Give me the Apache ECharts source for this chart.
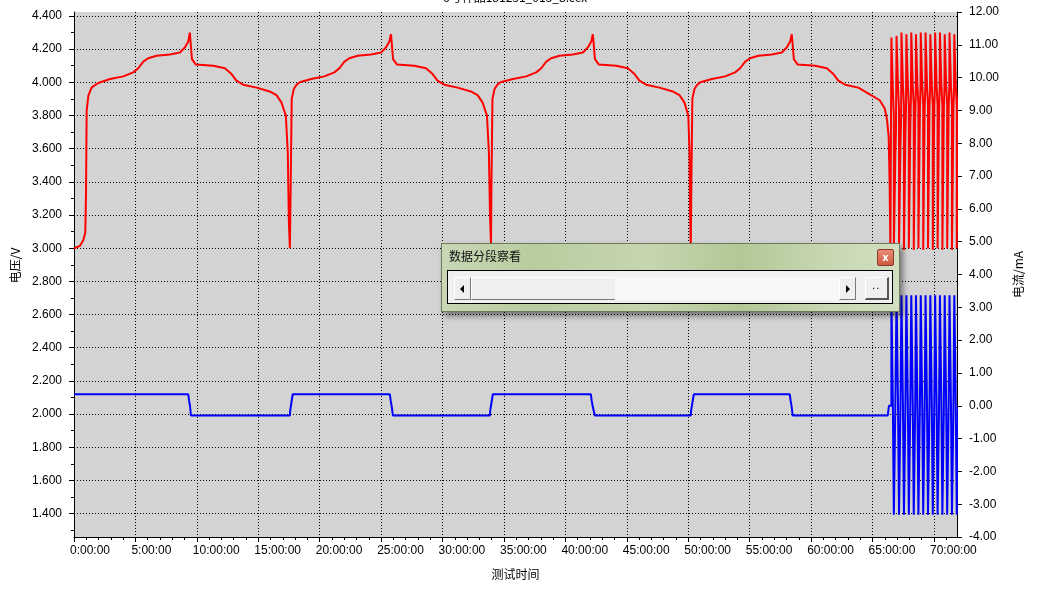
<!DOCTYPE html>
<html><head><meta charset="utf-8">
<script src="https://cdn.jsdelivr.net/npm/echarts@6/dist/echarts.min.js"></script>
<style>
html,body{margin:0;padding:0;background:#fff;}
#wrap{position:relative;width:1040px;height:606px;overflow:hidden;}
#chart{position:absolute;left:0;top:0;width:1040px;height:606px;}
#dlg{position:absolute;left:441px;top:243px;width:459px;height:69px;box-sizing:border-box;border:1px solid #6d7a60;
 background:linear-gradient(90deg,#c9d7b5 0%,#b9cc9f 20%,#c6d6b0 45%,#b3c796 65%,#c8d8b3 85%,#d2dfc0 100%);
 box-shadow:3px 4px 6px rgba(0,0,0,0.45);font-family:"Noto Sans CJK SC",sans-serif;}
#dlg .ttl{position:absolute;left:7px;top:5px;font-size:12px;line-height:14px;color:#111;}
#dlg .cls{position:absolute;left:435px;top:5px;width:15px;height:15px;border:1px solid #8a3c2c;border-radius:2px;
 background:linear-gradient(#e98c76,#cf5a40);color:#fff;font:bold 10px "DejaVu Sans",sans-serif;text-align:center;line-height:15px;}
#dlg .pnl{position:absolute;left:5px;top:26px;width:446px;height:34px;box-sizing:border-box;border:1px solid #000;background:#f0f0f0;}
#dlg .btn{position:absolute;top:6px;height:23px;box-sizing:border-box;background:#efefef;
 border-top:1px solid #fff;border-left:1px solid #fff;border-right:1px solid #7a7a7a;border-bottom:1px solid #7a7a7a;}
#dlg .trk{position:absolute;top:6px;height:23px;left:167px;width:224px;background:#f8f8f8;}
#dlg .tri{position:absolute;top:7px;width:0;height:0;border-top:4px solid transparent;border-bottom:4px solid transparent;}
</style></head><body>
<div id="wrap">
<div id="chart"></div>
<div id="dlg">
 <div class="ttl">数据分段察看</div>
 <div class="cls">x</div>
 <div class="pnl">
  <div class="btn" style="left:6px;width:17px;"><div class="tri" style="left:5px;border-right:4px solid #000;"></div></div>
  <div class="btn" style="left:23px;width:145px;"></div>
  <div class="trk"></div>
  <div class="btn" style="left:391px;width:17px;"><div class="tri" style="left:6px;border-left:4px solid #000;"></div></div>
  <div class="btn" style="left:417px;width:24px;border-right:2px solid #555;border-bottom:2px solid #555;"><div style="position:absolute;left:6px;top:2px;font:10px 'DejaVu Sans';color:#000;letter-spacing:1px">..</div></div>
 </div>
</div>
</div>
<script>
// ---------- data (hours, volts / mA) ----------
const TITLE = '6号样品181231_015_8.cex';
const X_LABEL = '测试时间';
const Y_LEFT_NAME = '电压/V';
const Y_RIGHT_NAME = '电流/mA';
const xTicks = [0,5,10,15,20,25,30,35,40,45,50,55,60,65,70];
const voltTicks = [1.4,1.6,1.8,2.0,2.2,2.4,2.6,2.8,3.0,3.2,3.4,3.6,3.8,4.0,4.2,4.4];
const voltMinorTicks = [1.3,1.5,1.7,1.9,2.1,2.3,2.5,2.7,2.9,3.1,3.3,3.5,3.7,3.9,4.1,4.3];

const voltCycle1 = [[0,3.0],[0.49,3.014],[0.76,3.05],[0.92,3.095],[0.98,3.34],[1.03,3.83],[1.17,3.92],[1.44,3.97],[1.98,3.996],[2.93,4.02],[4.01,4.036],[4.82,4.06],[5.23,4.085],[5.64,4.125],[6.04,4.145],[6.72,4.16],[7.8,4.168],[8.62,4.18],[9.02,4.21],[9.3,4.246],[9.43,4.30],[9.49,4.24],[9.6,4.14],[9.92,4.107],[11.33,4.10],[12.28,4.085],[12.82,4.05],[13.22,4.01],[13.77,3.986],[14.85,3.968],[15.93,3.945],[16.48,3.923],[16.88,3.879],[17.24,3.80],[17.40,3.58],[17.46,3.58],[17.49,3.16],[17.55,3.16],[17.57,3.0]];
const voltCycle2 = [[17.62,3.0],[17.64,3.40],[17.72,3.90],[17.89,3.96],[18.1,3.984],[18.37,4.0],[19.30,4.02],[20.38,4.036],[21.19,4.06],[21.60,4.085],[22.01,4.125],[22.41,4.145],[23.09,4.16],[24.17,4.168],[24.99,4.18],[25.39,4.21],[25.67,4.246],[25.80,4.29],[25.86,4.24],[25.97,4.14],[26.29,4.107],[27.70,4.10],[28.65,4.085],[29.19,4.05],[29.59,4.01],[30.14,3.986],[31.22,3.968],[32.30,3.945],[32.85,3.923],[33.25,3.879],[33.61,3.80],[33.77,3.58],[33.86,3.2],[33.94,3.02]];
const voltCycle3 = [[33.98,3.40],[34.06,3.90],[34.23,3.96],[34.44,3.984],[34.71,4.0],[35.73,4.02],[36.81,4.036],[37.62,4.06],[38.03,4.085],[38.44,4.125],[38.84,4.145],[39.52,4.16],[40.6,4.168],[41.42,4.18],[41.82,4.21],[42.1,4.246],[42.23,4.29],[42.29,4.24],[42.4,4.14],[42.72,4.107],[44.13,4.10],[45.08,4.085],[45.62,4.05],[46.02,4.01],[46.57,3.986],[47.65,3.968],[48.73,3.945],[49.28,3.923],[49.68,3.879],[50.0,3.80],[50.1,3.58],[50.15,3.2],[50.2,3.0]];
const voltCycle4 = [[50.25,3.40],[50.33,3.90],[50.5,3.96],[50.71,3.984],[50.98,4.0],[51.92,4.02],[53.0,4.036],[53.81,4.06],[54.22,4.085],[54.63,4.125],[55.03,4.145],[55.71,4.16],[56.79,4.168],[57.61,4.18],[58.01,4.21],[58.29,4.246],[58.42,4.29],[58.48,4.24],[58.59,4.14],[58.91,4.107],[60.32,4.10],[61.27,4.085],[61.81,4.05],[62.21,4.01],[62.76,3.986],[63.84,3.968],[64.77,3.928],[65.58,3.892],[65.99,3.842],[66.18,3.771],[66.31,3.67],[66.39,3.37],[66.45,2.99]];

const currentSteps = [[0,0.35],[9.30,0.35],[9.36,0.17],[9.44,0.0],[9.52,-0.30],[17.57,-0.30],[17.60,-0.14],[17.8,0.35],
 [25.71,0.35],[25.77,0.17],[25.85,0.0],[25.96,-0.30],[33.85,-0.30],[33.88,-0.14],[34.09,0.35],
 [42.07,0.35],[42.13,0.17],[42.21,0.0],[42.39,-0.30],[50.2,-0.30],[50.23,-0.14],[50.45,0.35],
 [58.26,0.35],[58.32,0.17],[58.40,0.0],[58.5,-0.30],[66.23,-0.30],[66.33,0.0]];

// pulse test at the end (one entry per pulse)
const pulseStart      = [66.53,66.95,67.35,67.75,68.15,68.53,68.92,69.31,69.70,70.09,70.48,70.87,71.26,71.65];
const pulseHighV      = [4.27,4.28,4.30,4.29,4.30,4.29,4.30,4.30,4.29,4.30,4.30,4.29,4.30,4.29];
const pulseRestHighV  = [3.95,3.97,3.98,3.98,3.98,3.98,3.98,3.98,3.98,3.98,3.98,3.98,3.98,3.98];
const pulseRestHighEnd= [3.80,3.84,3.86,3.86,3.86,3.86,3.86,3.86,3.86,3.86,3.86,3.86,3.86,3.86];
const pulseLowV       = [2.99,3.00,2.99,3.00,2.99,3.00,2.99,3.00,2.99,3.00,2.99,3.00,2.99,3.00];
const pulseRestLowV   = [3.55,3.62,3.68,3.74,3.80,3.84,3.84,3.84,3.84,3.84,3.84,3.84,3.84,3.84];
const pulseRestLowEnd = [3.70,3.78,3.84,3.90,3.95,3.97,3.97,3.97,3.97,3.97,3.97,3.97,3.97,3.97];
const pulseHighI      = [3.37,3.37,3.37,3.37,3.37,3.37,3.37,3.37,3.37,3.37,3.37,3.37,3.37,3.37];
const pulseLowI       = [-3.32,-3.32,-3.32,-3.32,-3.32,-3.32,-3.32,-3.32,-3.32,-3.32,-3.32,-3.32,-3.32,-3.32];

// ---------- build series ----------
const PW = 0.12, POFF = 0.2, PEND = 0.37;
const pulseV = [], pulseI = [];
pulseStart.forEach((t,i)=>{
  pulseV.push([t,pulseHighV[i]],[t+PW,pulseHighV[i]],[t+PW,pulseRestHighV[i]],
              [t+POFF,pulseRestHighEnd[i]],[t+POFF,pulseLowV[i]],[t+POFF+PW,pulseLowV[i]],[t+POFF+PW,pulseRestLowV[i]],
              [t+PEND,pulseRestLowEnd[i]]);
  pulseI.push([t,0],[t,pulseHighI[i]],[t+PW,pulseHighI[i]],[t+PW,0],
              [t+POFF,0],[t+POFF,pulseLowI[i]],[t+POFF+PW,pulseLowI[i]],[t+POFF+PW,0]);
});
const voltData = [].concat(voltCycle1,voltCycle2,voltCycle3,voltCycle4,pulseV);
const currData = [].concat(currentSteps,pulseI);

const FONT = 'Liberation Sans';
const CJK = 'Noto Sans CJK SC';
const chart = echarts.init(document.getElementById('chart'), null, {renderer:'canvas'});
const dotted = {type:[1,2], color:'#000', width:1};
chart.setOption({
  animation:false,
  backgroundColor:'#ffffff',
  title:{text:TITLE, left:443, top:-9, padding:0, textStyle:{fontSize:12, fontWeight:'normal', color:'#000', fontFamily:CJK}},
  grid:{left:74, right:83, top:12, bottom:69, show:true, backgroundColor:'#d3d3d3', borderWidth:0, containLabel:false},
  xAxis:{type:'value', min:0, max:71.87, interval:5,
    name:X_LABEL, nameLocation:'middle', nameGap:31, nameTextStyle:{fontSize:12, color:'#000', fontFamily:CJK},
    axisLine:{show:true, onZero:false, lineStyle:{color:'#000', width:1}},
    axisTick:{show:true, length:5, lineStyle:{color:'#000'}, customValues:xTicks},
    minorTick:{show:true, splitNumber:5, length:3, lineStyle:{color:'#000'}},
    axisLabel:{color:'#000', fontSize:12, fontFamily:FONT, margin:8, align:'left', padding:[0,0,0,-4], customValues:xTicks, formatter:v=>v+':00:00'},
    splitLine:{show:true, lineStyle:dotted}},
  yAxis:[
    {type:'value', position:'left', min:1.259, max:4.424,
     name:Y_LEFT_NAME, nameLocation:'middle', nameGap:50, nameRotate:90,
     nameTextStyle:{fontSize:12, color:'#000', fontFamily:CJK, padding:[0,0,0,18]},
     axisLine:{show:true, onZero:false, lineStyle:{color:'#000', width:1}},
     axisTick:{show:true, length:5, lineStyle:{color:'#000'}, customValues:voltTicks},
     axisLabel:{color:'#000', fontSize:12, fontFamily:FONT, margin:12, customValues:voltTicks, formatter:v=>v.toFixed(3)},
     splitLine:{show:true, lineStyle:dotted}},
    {type:'value', position:'right', min:-4, max:12, interval:1,
     name:Y_RIGHT_NAME, nameLocation:'middle', nameGap:55, nameRotate:90,
     nameTextStyle:{fontSize:12, color:'#000', fontFamily:CJK},
     axisLine:{show:true, onZero:false, lineStyle:{color:'#000', width:1}},
     axisTick:{show:true, length:5, lineStyle:{color:'#000'}},
     axisLabel:{color:'#000', fontSize:12, fontFamily:FONT, margin:12, formatter:v=>v.toFixed(2)},
     splitLine:{show:false}},
    {type:'value', position:'left', min:1.259, max:4.424,
     axisLine:{show:false, onZero:false}, axisLabel:{show:false}, splitLine:{show:false},
     axisTick:{show:true, length:3, lineStyle:{color:'#000'}, customValues:voltMinorTicks}}
  ],
  series:[
    {type:'line', name:'电压', yAxisIndex:0, data:voltData, showSymbol:false, symbol:'none', silent:true,
     lineStyle:{color:'#ff0000', width:2}, z:3},
    {type:'line', name:'电流', yAxisIndex:1, data:currData, showSymbol:false, symbol:'none', silent:true,
     lineStyle:{color:'#0000ff', width:2}, z:2}
  ]
});
</script>
</body></html>
